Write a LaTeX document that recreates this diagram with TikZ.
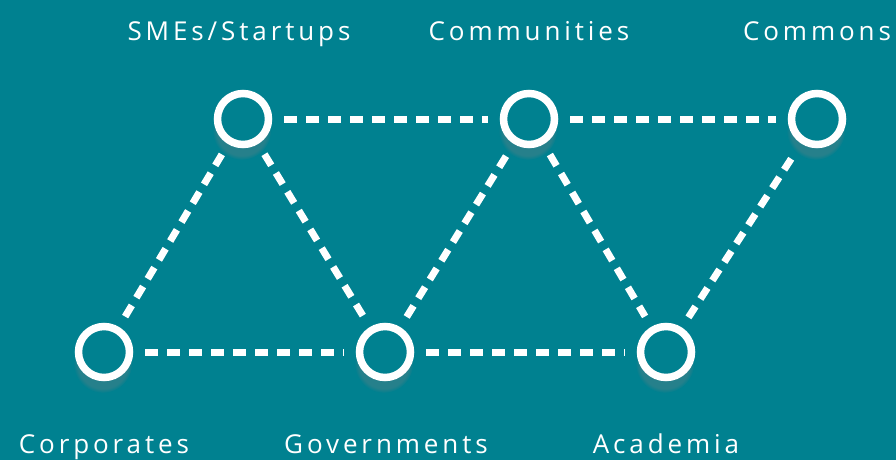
\documentclass[tikz,border=0pt]{standalone}
\usepackage{xcolor}
\usepackage{fontspec}
\newfontfamily\labelfont{Open Sans}[LetterSpace=15]
\usepackage{tikz}
\usetikzlibrary{shadows}
\definecolor{tealbg}{RGB}{0,129,144}

\begin{document}
\begin{tikzpicture}[x=1pt, y=-1pt,
		hub/.style={circle, draw=white, fill=tealbg, line width=7.5pt, minimum size=51pt, inner sep=0pt,
			circular drop shadow={shadow xshift=-1pt, shadow yshift=-10pt, opacity=0.3, shadow scale=1.15}},
		link/.style={draw=white, line width=7pt, dash pattern=on 13pt off 9pt, shorten >=12pt, shorten <=12pt},
		lbl/.style={text=white, font=\labelfont\fontsize{26}{30}\selectfont, anchor=base, inner sep=0pt}]

		\fill[tealbg] (0,0) rectangle (896,460);
		\useasboundingbox (0,0) rectangle (896,460);

		% top row
		\node[hub] (smes) at (243,119) {};
		\node[hub] (communities) at (529,119) {};
		\node[hub] (commons) at (817,119) {};
		% bottom row
		\node[hub] (corporates) at (104,352) {};
		\node[hub] (governments) at (385,352) {};
		\node[hub] (academia) at (666,352) {};

		\draw[link] (smes) -- (communities);
		\draw[link] (communities) -- (commons);
		\draw[link] (corporates) -- (governments);
		\draw[link] (governments) -- (academia);
		\draw[link] (corporates) -- (smes);
		\draw[link] (smes) -- (governments);
		\draw[link] (governments) -- (communities);
		\draw[link] (communities) -- (academia);
		\draw[link] (academia) -- (commons);

		\node[lbl] (smeslabel) at (239,41) {SMEs/Startups};
		\node[lbl] (communitieslabel) at (529,41) {Communities};
		\node[lbl] (commonslabel) at (817,41) {Commons};
		\node[lbl] (corporateslabel) at (104,453) {Corporates};
		\node[lbl] (governmentslabel) at (386,453) {Governments};
		\node[lbl] (academialabel) at (666,453) {Academia};
	\end{tikzpicture}
\end{document}
